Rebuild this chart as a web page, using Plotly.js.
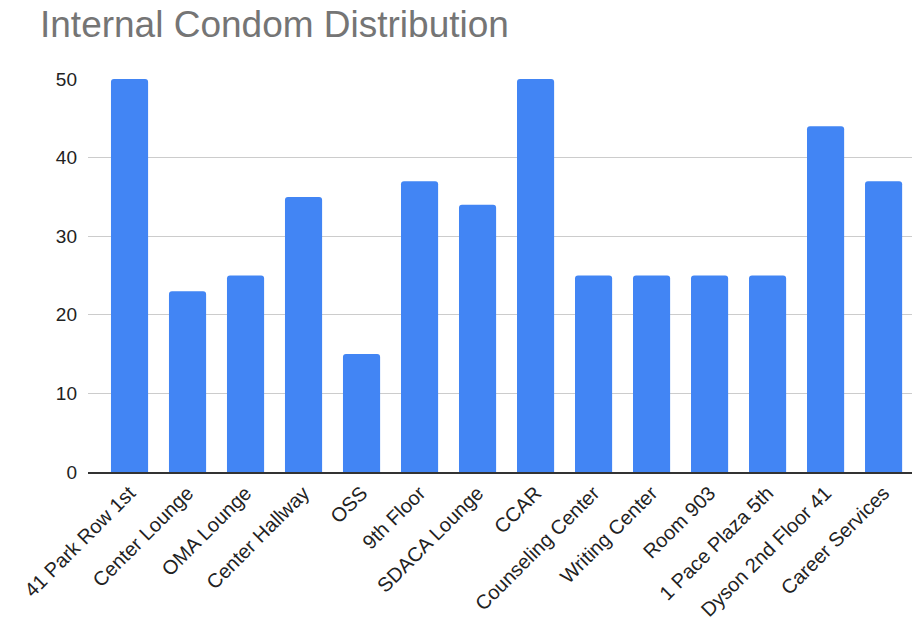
<!DOCTYPE html>
<html>
<head>
<meta charset="utf-8">
<script src="https://cdn.plot.ly/plotly-3.0.1.min.js"></script>
<style>
  html, body { margin: 0; padding: 0; background: #fff; }
  #chart { width: 912px; height: 627px; }
</style>
</head>
<body>
<div id="chart"></div>
<script>
// Locations receiving internal condoms
const locations = [
  "41 Park Row 1st", "Center Lounge", "OMA Lounge", "Center Hallway", "OSS",
  "9th Floor", "SDACA Lounge", "CCAR", "Counseling Center", "Writing Center",
  "Room 903", "1 Pace Plaza 5th", "Dyson 2nd Floor 41", "Career Services"
];
// Number distributed at each location
const counts = [50, 23, 25, 35, 15, 37, 34, 50, 25, 25, 25, 25, 44, 37];
const yTicks = [0, 10, 20, 30, 40, 50];

const FONT = "Liberation Sans, Arial, sans-serif";

const trace = {
  type: "bar",
  x: locations,
  y: counts,
  width: 0.64,
  marker: { color: "#4285F4", cornerradius: 3 },
  hoverinfo: "x+y"
};

const layout = {
  width: 912,
  height: 627,
  margin: { l: 88, r: 0, t: 79, b: 155 },
  paper_bgcolor: "#ffffff",
  plot_bgcolor: "#ffffff",
  showlegend: false,
  title: {
    text: "Internal Condom Distribution",
    font: { family: FONT, size: 37, color: "#757575" },
    x: 40 / 912,
    xanchor: "left",
    xref: "container",
    y: 1 - 24 / 627,
    yanchor: "middle",
    yref: "container"
  },
  xaxis: {
    type: "category",
    range: [-0.716, 13.49],
    tickangle: -45,
    tickfont: { family: FONT, size: 20, color: "#222222" },
    showgrid: false,
    zeroline: false,
    showline: true,
    linecolor: "#333333",
    linewidth: 1.5,
    ticks: "",
    automargin: false
  },
  yaxis: {
    range: [0, 50],
    tickvals: yTicks,
    ticktext: yTicks.map(String),
    tickfont: { family: FONT, size: 19, color: "#222222" },
    showgrid: true,
    gridcolor: "#cccccc",
    gridwidth: 1,
    zeroline: false,
    showline: false,
    ticks: "",
    ticklabelstandoff: 10,
    automargin: false
  }
};

Plotly.newPlot("chart", [trace], layout, { displayModeBar: false, staticPlot: true });
</script>
</body>
</html>
